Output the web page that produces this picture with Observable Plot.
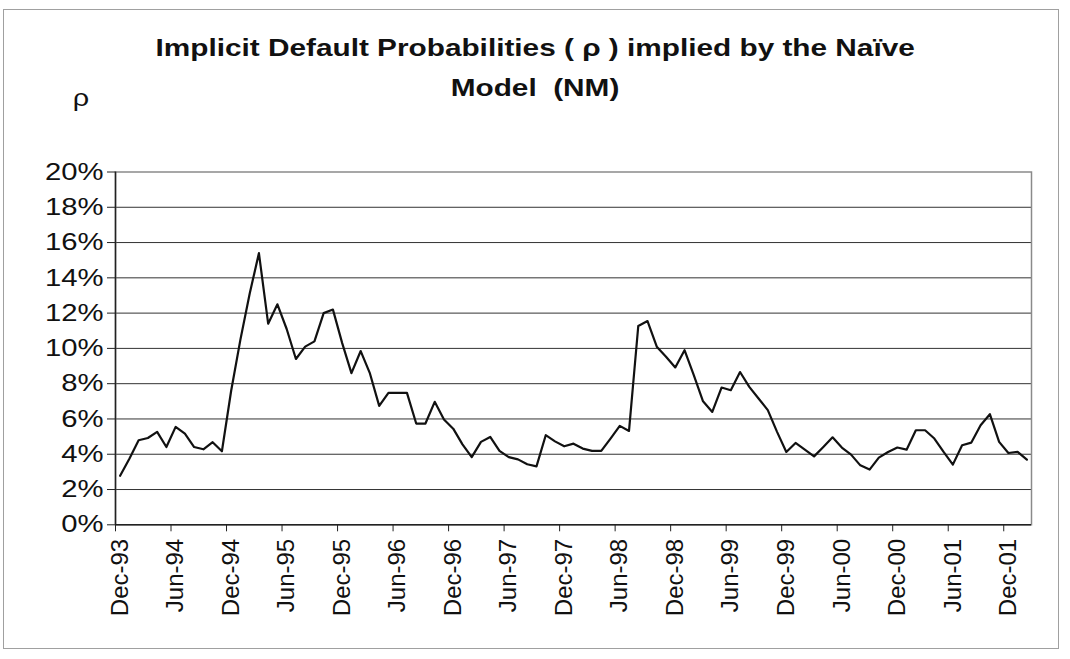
<!DOCTYPE html>
<html>
<head>
<meta charset="utf-8">
<script src="https://cdn.jsdelivr.net/npm/d3@7"></script>
<script src="https://cdn.jsdelivr.net/npm/@observablehq/plot@0.6"></script>
<style>
  html, body { margin: 0; padding: 0; background: #fff; }
  #wrap { position: relative; width: 1070px; height: 659px; overflow: hidden; font-family: "Liberation Sans", Arial, sans-serif; }
  #border { position: absolute; left: 3px; top: 9px; width: 1056px; height: 640px; border: 1px solid #a0a0a0; box-sizing: border-box; }
  .title { position: absolute; left: 0; width: 1070px; text-align: center; font-weight: bold; font-size: 24px; color: #111; }
  .title span { display: inline-block; transform: scaleX(1.24); transform-origin: center; }
  #rho { position: absolute; left: 74px; top: 84px; font-size: 24px; color: #111; transform: scaleX(1.2); }
  #chart { position: absolute; left: 0; top: 0; }
</style>
</head>
<body>
<div id="wrap">
  <div id="border"></div>
  <div class="title" style="top:34px"><span>Implicit Default Probabilities ( ρ ) implied by the Naïve</span></div>
  <div class="title" style="top:74px"><span>Model&nbsp; (NM)</span></div>
  <div id="rho">ρ</div>
  <div id="chart"></div>
</div>
<script>
const tickLabels = ["Dec-93","Jun-94","Dec-94","Jun-95","Dec-95","Jun-96","Dec-96","Jun-97","Dec-97","Jun-98","Dec-98","Jun-99","Dec-99","Jun-00","Dec-00","Jun-01","Dec-01"];
const tickEvery = 6;
const rhoPercent = [
  2.78, 3.75, 4.79, 4.92, 5.27, 4.41, 5.55, 5.17, 4.41, 4.28, 4.68, 4.17,
  7.6, 10.5, 13.1, 15.4, 11.4, 12.5, 11.1, 9.4, 10.1, 10.4, 12.0, 12.2,
  10.3, 8.6, 9.85, 8.58, 6.74, 7.48, 7.48, 7.48, 5.74, 5.74, 6.97, 5.97,
  5.45, 4.56, 3.84, 4.7, 4.98, 4.19, 3.84, 3.71, 3.43, 3.31, 5.08, 4.73,
  4.45, 4.6, 4.32, 4.19, 4.19, 4.89, 5.61, 5.32, 11.27, 11.55, 10.1, 9.53,
  8.92, 9.9, 8.48, 7.0, 6.4, 7.78, 7.63, 8.66, 7.82, 7.16, 6.5, 5.27,
  4.13, 4.64, 4.26, 3.88, 4.41, 4.96, 4.38, 3.98, 3.37, 3.13, 3.81, 4.13,
  4.38, 4.26, 5.36, 5.36, 4.89, 4.13, 3.41, 4.51, 4.66, 5.64, 6.27, 4.7,
  4.07, 4.13, 3.69
];
const yTicks = [0, 2, 4, 6, 8, 10, 12, 14, 16, 18, 20];

const data = rhoPercent.map((v, i) => ({i, v}));
const n = rhoPercent.length;
const labelPos = tickLabels.map((_, k) => k * tickEvery);
const tickPos = tickLabels.map((_, k) => k * tickEvery - 0.5);

const chart = Plot.plot({
  width: 1070,
  height: 659,
  marginTop: 171.5,
  marginBottom: 134.7,
  marginLeft: 115,
  marginRight: 39,
  style: {background: "transparent", fontFamily: "Liberation Sans, Arial, sans-serif", color: "#111"},
  x: {type: "linear", domain: [-0.5, n - 0.5], label: null},
  y: {domain: [0, 20], label: null},
  marks: [
    Plot.gridY(yTicks.filter(d => d > 0 && d < 20), {stroke: "#333", strokeOpacity: 1, strokeWidth: 1}),
    Plot.frame({stroke: "#8a8a8a", strokeWidth: 1.5}),
    Plot.ruleY([0], {stroke: "#222", strokeWidth: 1.5}),
    Plot.ruleX([-0.5], {stroke: "#222", strokeWidth: 1.5}),
    Plot.axisY(yTicks, {tickFormat: d => d + "%", tickSize: 8, tickPadding: 4, fontSize: 24, stroke: "#222", label: null}),
    Plot.axisX(tickPos, {tickFormat: () => "", tickSize: 7, stroke: "#222", label: null}),
    Plot.axisX(labelPos, {tickFormat: (d, k) => tickLabels[k], tickSize: 0, tickPadding: 14, tickRotate: -90, fontSize: 24, label: null}),
    Plot.line(data, {x: "i", y: "v", stroke: "#111", strokeWidth: 2.2})
  ]
});
document.getElementById("chart").appendChild(chart);
// widen the y tick labels horizontally to match the reference's stretched glyphs
chart.querySelectorAll('g[aria-label="y-axis tick label"] text').forEach(t => {
  const w = t.getComputedTextLength();
  t.setAttribute("textLength", (w * 1.22).toFixed(1));
  t.setAttribute("lengthAdjust", "spacingAndGlyphs");
});
</script>
</body>
</html>
